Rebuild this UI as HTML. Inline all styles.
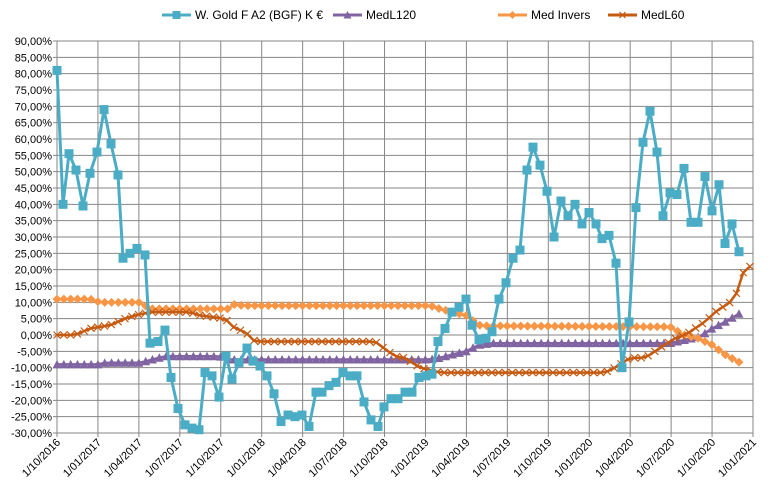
<!DOCTYPE html>
<html><head><meta charset="utf-8"><style>
html,body{margin:0;padding:0;background:#fff;}
svg{display:block;font-family:"Liberation Sans",sans-serif;}
</style></head><body>
<svg id="c" width="773" height="497" xmlns="http://www.w3.org/2000/svg"></svg>
<script>
const s=document.getElementById('c');
const X0=57,X1=753,Y0=41,Y1=433;
const yv=v=>Y0+(90-v)/120*(Y1-Y0);
let h='<rect width="773" height="497" fill="#fff"/>';
for(let i=0;i<=24;i++){const y=Y0+i*(Y1-Y0)/24;h+=`<line x1="${X0-4}" y1="${y}" x2="${X1}" y2="${y}" stroke="#868686" stroke-width="1"/>`;
const v=90-i*5;h+=`<text x="${X0-5}" y="${y+4}" font-size="11" text-anchor="end" fill="#000">${v.toFixed(2).replace('.',',')}%</text>`;}
const labs=["1/10/2016","1/01/2017","1/04/2017","1/07/2017","1/10/2017","1/01/2018","1/04/2018","1/07/2018","1/10/2018","1/01/2019","1/04/2019","1/07/2019","1/10/2019","1/01/2020","1/04/2020","1/07/2020","1/10/2020","1/01/2021"];
labs.forEach((l,i)=>{const x=X0+i*(X1-X0)/17;h+=`<line x1="${x}" y1="${Y0}" x2="${x}" y2="${Y1+4}" stroke="#868686" stroke-width="1"/>`;
h+=`<text transform="translate(${x+4},${Y1+10}) rotate(-45)" font-size="11" text-anchor="end" fill="#000">${l}</text>`;});
const gold=[[57,81],[63,40],[69,55.5],[76,50.5],[83,39.5],[90,49.5],[97,56],[104,69],[111,58.5],[118,49],[123,23.5],[130,25],[137,26.5],[145,24.5],[150,-2.5],[158,-2],[165,1.5],[171,-13],[178,-22.5],[185,-27.5],[192,-28.5],[199,-29],[205,-11.5],[212,-12.5],[219,-19],[226,-6.5],[232,-13.5],[239,-8.5],[247,-4],[253,-8],[260,-9.5],[267,-12.5],[274,-18],[281,-26.5],[288,-24.5],[295,-25],[302,-24.5],[309,-28],[316,-17.5],[322,-17.5],[329,-15.5],[336,-14.5],[343,-11.5],[350,-12.5],[357,-12.5],[364,-20.5],[371,-26],[378,-28],[384,-22],[391,-19.5],[398,-19.5],[405,-17.5],[412,-17.5],[419,-13],[426,-12.5],[432,-12],[438,-2],[445,2],[452,7],[459,8.5],[466,11],[472,3],[479,-1.5],[486,-1],[492,1],[499,11],[506,16],[513,23.5],[520,26],[527,50.5],[533,57.5],[540,52],[547,44],[554,30],[561,41],[568,36.5],[575,40],[582,34],[589,37.5],[596,34],[602,29.5],[609,30.5],[616,22],[622,-10],[629,4],[636,39],[643,59],[650,68.5],[657,56],[663,36.5],[670,43.5],[677,43],[684,51],[691,34.5],[698,34.5],[705,48.5],[712,38],[719,46],[725,28],[732,34],[739,25.5]];
function interp(keys,x){if(x<=keys[0][0])return keys[0][1];for(let i=1;i<keys.length;i++){if(x<=keys[i][0]){const a=keys[i-1],b=keys[i];return a[1]+(b[1]-a[1])*(x-a[0])/(b[0]-a[0]);}}return keys[keys.length-1][1];}
const purK=[[57,-9],[100,-9],[105,-8.5],[140,-8.5],[165,-6.5],[220,-6.5],[226,-7.5],[430,-7.5],[440,-7],[452,-6],[466,-5],[479,-3],[492,-2.5],[670,-2.5],[700,-0.5],[712,2],[725,4],[739,6.5]];
const invK=[[57,11],[90,11],[100,10],[140,10],[150,8],[228,8],[235,9.5],[242,9],[430,9],[440,8],[452,7],[466,6],[479,3],[486,2.8],[670,2.5],[684,0],[698,-1],[712,-3],[725,-6],[739,-8.3]];
const l60K=[[57,0],[75,0],[90,2],[110,3],[125,5],[135,6],[150,7],[190,7],[200,6],[225,5],[235,2],[245,1],[255,-2],[375,-2],[395,-6.5],[405,-7],[420,-10],[440,-11.5],[605,-11.5],[615,-10],[630,-7],[645,-7],[660,-4],[675,-1],[685,0],[695,2],[705,4],[715,7],[725,9],[730,10],[737,13],[743,19],[750,21]];
const xs=[];for(let i=0;i<=100;i++)xs.push(57+i*6.82);
const xs60=[];for(let i=0;i<=102;i++)xs60.push(57+i*(693/102));
function line(pts,c,w){return `<polyline fill="none" stroke="${c}" stroke-width="${w}" stroke-linejoin="round" points="${pts.map(p=>p[0].toFixed(1)+','+yv(p[1]).toFixed(1)).join(' ')}"/>`;}
const pur=xs.map(x=>[x,interp(purK,x)]),inv=xs.map(x=>[x,interp(invK,x)]),l60=xs60.map(x=>[x,interp(l60K,x)]);
h+=line(pur,'#8064A2',2.5);pur.forEach(p=>{const y=yv(p[1]);h+=`<polygon points="${p[0]-4.5},${y+4} ${p[0]+4.5},${y+4} ${p[0]},${y-4.5}" fill="#8064A2"/>`;});
h+=line(inv,'#F79646',2.5);inv.forEach(p=>{const y=yv(p[1]);h+=`<polygon points="${p[0]-4.5},${y} ${p[0]},${y-4.5} ${p[0]+4.5},${y} ${p[0]},${y+4.5}" fill="#F79646"/>`;});
h+=line(l60,'#C55A11',2.5);l60.forEach(p=>{const y=yv(p[1]);h+=`<path d="M${p[0]-3.5},${y-3.5}L${p[0]+3.5},${y+3.5}M${p[0]-3.5},${y+3.5}L${p[0]+3.5},${y-3.5}" stroke="#C55A11" stroke-width="1.2"/>`;});
h+=line(gold,'#4BACC6',3);gold.forEach(p=>{const y=yv(p[1]);h+=`<rect x="${p[0]-4.5}" y="${y-4.5}" width="9" height="9" fill="#4BACC6"/>`;});
function leg(x,c,t,m){let r=`<line x1="${x}" y1="15" x2="${x+29}" y2="15" stroke="${c}" stroke-width="3"/>`;const cx=x+14.5;
if(m=='s')r+=`<rect x="${cx-4}" y="11" width="8" height="8" fill="${c}"/>`;
if(m=='t')r+=`<polygon points="${cx-4},18.5 ${cx+4},18.5 ${cx},11" fill="${c}"/>`;
if(m=='d')r+=`<polygon points="${cx-4},15 ${cx},11 ${cx+4},15 ${cx},19" fill="${c}"/>`;
if(m=='x')r+=`<path d="M${cx-3},12L${cx+3},18M${cx-3},18L${cx+3},12" stroke="${c}" stroke-width="1.2"/>`;
r+=`<text x="${x+33}" y="19" font-size="12" fill="#000">${t}</text>`;return r;}
h+=leg(162,'#4BACC6','W. Gold F A2 (BGF) K €','s');
h+=leg(333,'#8064A2','MedL120','t');
h+=leg(498,'#F79646','Med Invers','d');
h+=leg(608,'#C55A11','MedL60','x');
s.innerHTML=h;
</script>
</body></html>
